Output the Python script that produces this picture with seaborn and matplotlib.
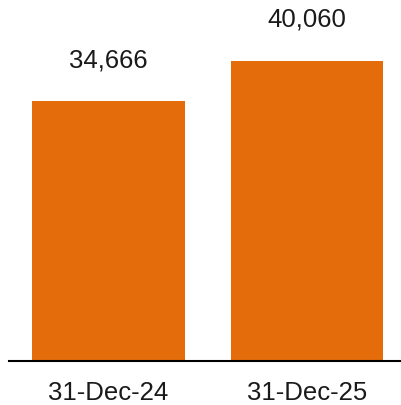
import matplotlib
matplotlib.use("Agg")
import matplotlib.pyplot as plt
import seaborn as sns
import pandas as pd

categories = ["31-Dec-24", "31-Dec-25"]
values = [34666, 40060]
value_labels = ["34,666", "40,060"]

sns.set_style("white")
plt.rcParams['font.family'] = ['Liberation Sans', 'DejaVu Sans']

df = pd.DataFrame({"date": categories, "value": values})

W, H = 401, 405
fig = plt.figure(figsize=(W / 100, H / 100), dpi=100)
ax = fig.add_axes([9 / W, (H - 361) / H, (W - 9) / W, 361 / H])

sns.barplot(data=df, x="date", y="value", color="#E46C0A", saturation=1,
            width=0.77, ax=ax)
for p in ax.patches:
    p.set_linewidth(0)

ax.set_xlim(-0.501, 1.474)
ax.set_ylim(0, 48160)

for i, (v, lab) in enumerate(zip(values, value_labels)):
    ax.annotate(lab, (i, v), xytext=(0, 41), textcoords="offset pixels",
                ha="center", va="center", fontsize=18.5, color="#1a1a1a")

ax.set_xlabel("")
ax.set_ylabel("")
ax.set_yticks([])
ax.tick_params(axis="x", length=0, pad=14.5, labelsize=18.5, colors="#1a1a1a")
for s in ["top", "left", "right"]:
    ax.spines[s].set_visible(False)
ax.spines["bottom"].set_visible(True)
ax.spines["bottom"].set_color("black")
ax.spines["bottom"].set_linewidth(1.5)
ax.patch.set_alpha(0)

fig.savefig("out.png", dpi=100)
